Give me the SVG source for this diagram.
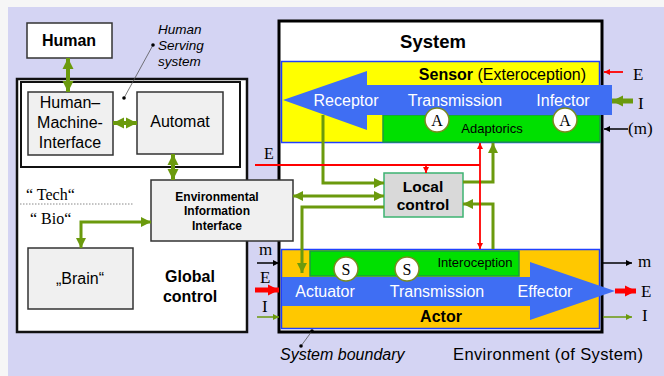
<svg xmlns="http://www.w3.org/2000/svg" width="664" height="376" viewBox="0 0 664 376">
<style>
.sans{font-family:"Liberation Sans",Arial,sans-serif}
.serif{font-family:"Liberation Serif","Times New Roman",serif}
.b{font-weight:bold}
.it{font-style:italic}
.box{fill:#f0f0f0;stroke:#333;stroke-width:1.5}
.g{stroke:#6b9a0d;stroke-width:3;fill:none}
.gb{stroke:#6b9a0d;stroke-width:4;fill:none}
.r{stroke:#ff0000;stroke-width:1.8;fill:none}
.k{stroke:#000;stroke-width:1.5;fill:none}
.wt{fill:#fff;font-size:16px}
.circ{fill:#fff;stroke:#7a8a20;stroke-width:1.5}
</style>
<defs>
<marker id="ag" viewBox="0 0 10 10" refX="10" refY="5" markerWidth="10" markerHeight="10" markerUnits="userSpaceOnUse" orient="auto-start-reverse"><path d="M0,0 L10,5 L0,10 z" fill="#6b9a0d"/></marker>
<marker id="agb" viewBox="0 0 10 10" refX="10" refY="5" markerWidth="11" markerHeight="12" markerUnits="userSpaceOnUse" orient="auto-start-reverse"><path d="M0,0 L10,5 L0,10 z" fill="#6b9a0d"/></marker>
<marker id="agt" viewBox="0 0 10 10" refX="10" refY="5" markerWidth="7" markerHeight="6" markerUnits="userSpaceOnUse" orient="auto-start-reverse"><path d="M0,0 L10,5 L0,10 z" fill="#6b9a0d"/></marker>
<marker id="ar" viewBox="0 0 10 10" refX="10" refY="5" markerWidth="7" markerHeight="6" markerUnits="userSpaceOnUse" orient="auto-start-reverse"><path d="M0,0 L10,5 L0,10 z" fill="#ff0000"/></marker>
<marker id="arb" viewBox="0 0 10 10" refX="10" refY="5" markerWidth="11" markerHeight="13" markerUnits="userSpaceOnUse" orient="auto-start-reverse"><path d="M0,0 L10,5 L0,10 z" fill="#ff0000"/></marker>
<marker id="ak" viewBox="0 0 10 10" refX="10" refY="5" markerWidth="7" markerHeight="6" markerUnits="userSpaceOnUse" orient="auto-start-reverse"><path d="M0,0 L10,5 L0,10 z" fill="#000"/></marker>
</defs>

<rect x="0" y="0" width="664" height="376" fill="#f6f6f6"/>
<rect x="8" y="7" width="656" height="369" fill="#d4d4f3"/>

<!-- Global control / human serving system -->
<g id="global-control">
<rect x="17" y="79" width="230" height="253" fill="#fff" stroke="#111" stroke-width="2.5"/>
<text class="sans b" x="190" y="282" font-size="16" text-anchor="middle">Global</text>
<text class="sans b" x="190" y="302" font-size="16" text-anchor="middle">control</text>
<line x1="20" y1="204" x2="133" y2="204" stroke="#888" stroke-width="1" stroke-dasharray="1.5,1.5"/>
<text class="serif" x="26" y="200" font-size="16">“ Tech“</text>
<text class="serif" x="30" y="224" font-size="16">“ Bio“</text>
</g>
<g id="human-serving-system">
<rect x="21" y="82" width="219" height="85" fill="#fff" stroke="#111" stroke-width="2"/>
<text class="sans it" x="158" y="34" font-size="13.5">Human</text>
<text class="sans it" x="158" y="50" font-size="13.5">Serving</text>
<text class="sans it" x="158" y="66" font-size="13.5">system</text>
<line x1="153" y1="45" x2="124" y2="98" stroke="#555" stroke-width="0.8"/>
<circle cx="153" cy="45" r="1.8" fill="#000"/>
<circle cx="124" cy="98" r="1.8" fill="#000"/>
</g>
<g id="human">
<rect x="27" y="23" width="85" height="35" fill="#fff" stroke="#333" stroke-width="1.5"/>
<text class="sans b" x="69" y="46" font-size="16" text-anchor="middle">Human</text>
</g>
<g id="hmi">
<rect class="box" x="28" y="92" width="85" height="63"/>
<text class="sans" x="70" y="108" font-size="16" text-anchor="middle">Human–</text>
<text class="sans" x="70" y="128" font-size="16" text-anchor="middle">Machine-</text>
<text class="sans" x="70" y="148" font-size="16" text-anchor="middle">Interface</text>
</g>
<g id="automat">
<rect class="box" x="137" y="92" width="86" height="62"/>
<text class="sans" x="180" y="127" font-size="16" text-anchor="middle">Automat</text>
</g>
<g id="brain">
<rect class="box" x="28" y="248" width="105" height="61"/>
<text class="sans" x="80" y="284" font-size="16" text-anchor="middle">„Brain“</text>
</g>

<!-- System -->
<g id="system">
<rect x="279" y="21" width="323" height="311" fill="#fff" stroke="#000" stroke-width="3"/>
<text class="sans b" x="433" y="48" font-size="18.5" text-anchor="middle">System</text>
</g>
<g id="sensor">
<rect x="281.5" y="61.5" width="318" height="81" fill="#ffff00" stroke="#2040ff" stroke-width="1.5"/>
<text class="sans" x="586" y="80" font-size="16" text-anchor="end"><tspan class="b">Sensor</tspan> (Exteroception)</text>
<rect x="383" y="115" width="217" height="27" fill="#00e000" stroke="#1c9a40" stroke-width="1.5"/>
<text class="sans" x="492" y="133" font-size="13" text-anchor="middle">Adaptorics</text>
<polygon points="283,100 367,71 367,85 612,85 612,115 367,115 367,130" fill="#3f6ef3"/>
<text class="sans wt" x="346" y="106" text-anchor="middle">Receptor</text>
<text class="sans wt" x="455" y="106" text-anchor="middle">Transmission</text>
<text class="sans wt" x="563" y="106" text-anchor="middle">Infector</text>
<circle class="circ" cx="437" cy="120" r="12"/>
<text class="serif" x="437" y="126" font-size="16" text-anchor="middle">A</text>
<circle class="circ" cx="565" cy="120" r="12"/>
<text class="serif" x="565" y="126" font-size="16" text-anchor="middle">A</text>
</g>
<g id="actor">
<rect x="281.5" y="249.5" width="318" height="79" fill="#ffc800" stroke="#2040ff" stroke-width="1.5"/>
<rect x="310" y="251" width="209" height="25" fill="#00e000" stroke="#1c9a40" stroke-width="1.5"/>
<text class="sans" x="475" y="267" font-size="13" text-anchor="middle">Interoception</text>
<polygon points="282,277 530,277 530,262 615,291 530,320 530,306 282,306" fill="#3f6ef3"/>
<text class="sans wt" x="325" y="297" text-anchor="middle">Actuator</text>
<text class="sans wt" x="437" y="297" text-anchor="middle">Transmission</text>
<text class="sans wt" x="545" y="297" text-anchor="middle">Effector</text>
<circle class="circ" cx="346" cy="269" r="12"/>
<text class="serif" x="346" y="275" font-size="16" text-anchor="middle">S</text>
<circle class="circ" cx="407" cy="269" r="12"/>
<text class="serif" x="407" y="275" font-size="16" text-anchor="middle">S</text>
<text class="sans b" x="441" y="322" font-size="16" text-anchor="middle">Actor</text>
</g>
<g id="eii">
<rect class="box" x="151" y="180" width="142" height="61"/>
<text class="sans b" x="217" y="201" font-size="12" text-anchor="middle">Environmental</text>
<text class="sans b" x="217" y="215" font-size="12" text-anchor="middle">Information</text>
<text class="sans b" x="217" y="230" font-size="12" text-anchor="middle">Interface</text>
</g>
<g id="local-control">
<rect x="384" y="173" width="79" height="44" fill="#d9d9d9" stroke="#3cb371" stroke-width="1.5"/>
<text class="sans b" x="423" y="192" font-size="15.5" text-anchor="middle">Local</text>
<text class="sans b" x="423" y="210" font-size="15.5" text-anchor="middle">control</text>
</g>

<!-- Connectors -->
<g id="connectors">
<line class="gb" x1="68" y1="58" x2="68" y2="92" marker-start="url(#agb)" marker-end="url(#agb)"/>
<line class="gb" x1="113" y1="123" x2="137" y2="123" marker-start="url(#agb)" marker-end="url(#agb)"/>
<line class="gb" x1="173" y1="154" x2="173" y2="180" marker-start="url(#agb)" marker-end="url(#agb)"/>
<path class="g" d="M151,222 H81 V248" marker-start="url(#ag)" marker-end="url(#ag)"/>
<path class="g" d="M323,115 V183 H384" marker-end="url(#ag)"/>
<line class="g" x1="293" y1="196" x2="384" y2="196" marker-start="url(#ag)" marker-end="url(#ag)"/>
<path class="g" d="M384,207 H302 V273" marker-end="url(#ag)"/>
<path class="g" d="M463,182 H493 V143" marker-end="url(#ag)"/>
<path class="g" d="M493,249 V204 H463" marker-end="url(#ag)"/>

<line class="r" x1="255" y1="165" x2="480" y2="165"/>
<line class="r" x1="426" y1="165" x2="426" y2="173" marker-end="url(#ar)"/>
<line class="r" x1="480" y1="143" x2="480" y2="249" marker-start="url(#ar)" marker-end="url(#ar)"/>
<line class="r" x1="623" y1="72" x2="604" y2="72" marker-end="url(#ar)"/>
<line x1="255" y1="290" x2="279" y2="290" stroke="#ff0000" stroke-width="5" marker-end="url(#arb)"/>
<line x1="615" y1="291" x2="636" y2="291" stroke="#ff0000" stroke-width="5" marker-end="url(#arb)"/>

<line x1="633" y1="101" x2="612" y2="101" stroke="#6b9a0d" stroke-width="5" marker-end="url(#agb)"/>
<line x1="257" y1="317" x2="279" y2="317" stroke="#6b9a0d" stroke-width="1.5" marker-end="url(#agt)"/>
<line x1="603" y1="317" x2="632" y2="317" stroke="#6b9a0d" stroke-width="1.5" marker-end="url(#agt)"/>

<line class="k" x1="628" y1="129" x2="604" y2="129" marker-end="url(#ak)"/>
<line class="k" x1="257" y1="263" x2="279" y2="263" marker-end="url(#ak)"/>
<line class="k" x1="603" y1="263" x2="632" y2="263" marker-end="url(#ak)"/>
</g>

<!-- environment labels -->
<g id="labels">
<text class="serif" x="264" y="159" font-size="16">E</text>
<text class="serif" x="633" y="80" font-size="17">E</text>
<text class="serif" x="638" y="109" font-size="17">I</text>
<text class="serif" x="628" y="134" font-size="17">(m)</text>
<text class="serif" x="259" y="255" font-size="17">m</text>
<text class="serif" x="260" y="283" font-size="17">E</text>
<text class="serif" x="262" y="312" font-size="17">I</text>
<text class="serif" x="638" y="267" font-size="17">m</text>
<text class="serif" x="641" y="297" font-size="17">E</text>
<text class="serif" x="642" y="321" font-size="17">I</text>
<line x1="312" y1="331" x2="301" y2="346" stroke="#555" stroke-width="0.8"/>
<circle cx="312" cy="331" r="1.8" fill="#000"/>
<circle cx="301" cy="346" r="1.8" fill="#000"/>
<text class="sans it" x="280" y="360" font-size="16">System boundary</text>
<text class="sans" x="453" y="360" font-size="16.5" textLength="190">Environment (of System)</text>
</g>
</svg>
